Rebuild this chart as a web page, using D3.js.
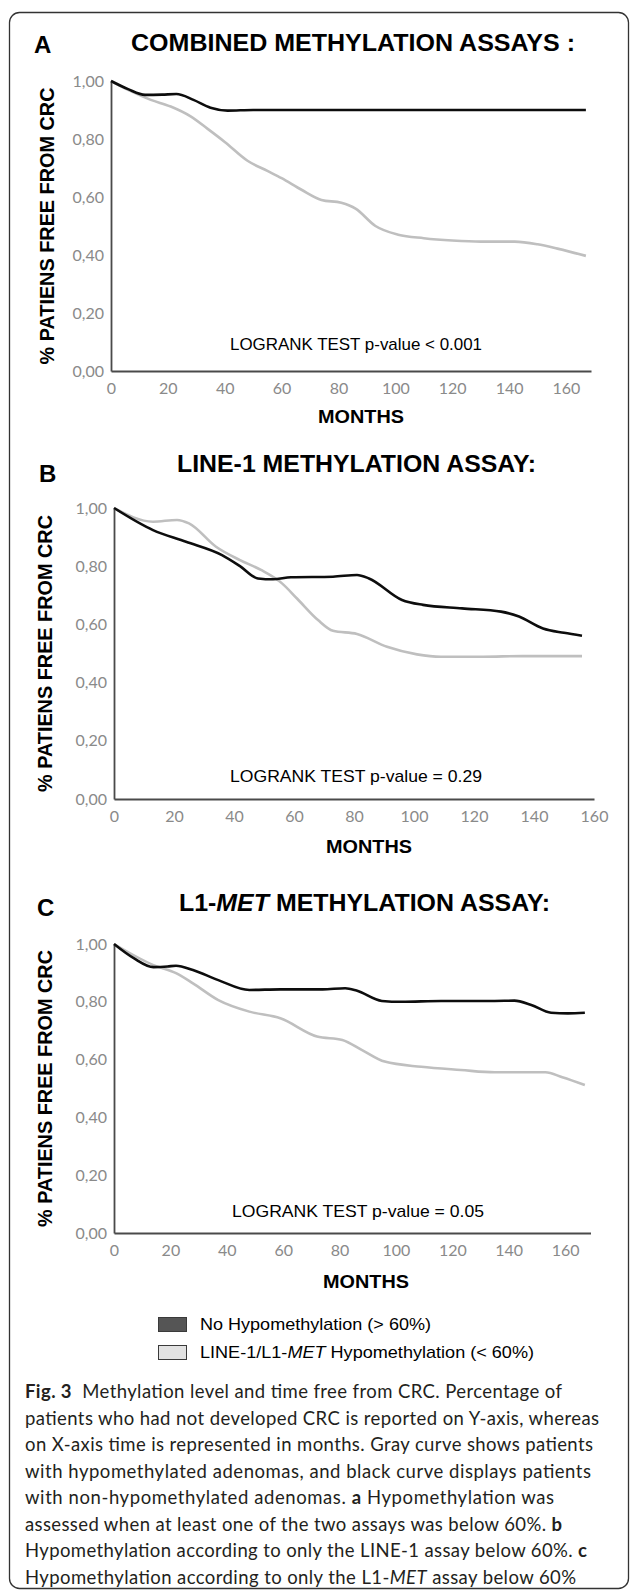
<!DOCTYPE html>
<html><head><meta charset="utf-8">
<script src="https://cdn.jsdelivr.net/npm/d3@7"></script>
<style>body{margin:0;background:#fff;} svg{display:block;}</style>
</head><body>
<svg id="c" width="630" height="1590"></svg>
<script>
// ---------- data ----------
const xTicks = [0, 20, 40, 60, 80, 100, 120, 140, 160];
const yTicks = [0, 0.2, 0.4, 0.6, 0.8, 1.0];
const seriesNames = ["No Hypomethylation (> 60%)", "LINE-1/L1-MET Hypomethylation (< 60%)"];
const pValueLabels = ["LOGRANK TEST p-value < 0.001", "LOGRANK TEST p-value = 0.29", "LOGRANK TEST p-value = 0.05"];

// Panel A (combined assays): [month, fraction free from CRC]
const aBlack = [[0,1.00],[6,0.972],[12,0.952],[18,0.953],[23,0.955],[29,0.935],[35,0.908],[41,0.898],[50,0.900],[80,0.900],[120,0.900],[167,0.900]];
const aGray  = [[0,1.00],[7,0.965],[14,0.935],[21,0.912],[28,0.878],[34,0.835],[40,0.790],[48,0.725],[55,0.690],[60,0.665],[67,0.625],[74,0.590],[81,0.580],[86,0.560],[93,0.500],[101,0.470],[110,0.458],[120,0.450],[130,0.446],[142,0.446],[150,0.437],[157,0.422],[167,0.397]];
// Panel B (LINE-1 assay)
const bBlack = [[0,1.00],[13,0.924],[24,0.884],[36,0.838],[42,0.800],[48,0.758],[53,0.755],[59,0.762],[73,0.764],[81,0.770],[85,0.758],[96,0.684],[103,0.667],[116,0.655],[129,0.644],[135,0.627],[143,0.586],[150,0.571],[156,0.561]];
const bGray  = [[0,1.00],[13,0.953],[21,0.959],[25,0.947],[34,0.867],[42,0.821],[49,0.787],[56,0.741],[61,0.689],[68,0.615],[73,0.578],[81,0.567],[91,0.523],[101,0.497],[109,0.489],[123,0.489],[136,0.491],[156,0.491]];
// Panel C (L1-MET assay)
const cBlack = [[0,1.00],[7,0.951],[14,0.920],[19,0.922],[22,0.925],[28,0.910],[37,0.875],[48,0.841],[59,0.843],[74,0.843],[82,0.847],[86,0.839],[95,0.803],[102,0.800],[116,0.803],[135,0.803],[142,0.804],[148,0.789],[155,0.762],[161,0.760],[167,0.762]];
const cGray  = [[0,1.00],[14,0.927],[22,0.899],[28,0.864],[37,0.806],[48,0.766],[59,0.743],[72,0.680],[81,0.668],[88,0.633],[96,0.593],[109,0.575],[123,0.564],[135,0.556],[145,0.556],[153,0.556],[159,0.539],[167,0.512]];

// ---------- layout ----------
const panels = [
  {letter:"A", lx:34, ly:53, title:[["COMBINED METHYLATION ASSAYS :",false]], tx:131, ty:51, tw:444,
   x0:111, x1:591, xMax:168.8, yTop:81, yBot:371, black:aBlack, gray:aGray, p:pValueLabels[0], px:356, py:350,
   ytx:54, mx:361, my:423},
  {letter:"B", lx:39, ly:482, title:[["LINE-1 METHYLATION ASSAY:",false]], tx:177, ty:472, tw:359,
   x0:114, x1:594, xMax:160, yTop:508, yBot:799, black:bBlack, gray:bGray, p:pValueLabels[1], px:356, py:782,
   ytx:52, mx:369, my:853},
  {letter:"C", lx:37, ly:916, title:[["L1-",false],["MET",true],[" METHYLATION ASSAY:",false]], tx:179, ty:911, tw:371,
   x0:114, x1:590.5, xMax:169, yTop:944, yBot:1233, black:cBlack, gray:cGray, p:pValueLabels[2], px:358, py:1217,
   ytx:52, mx:366, my:1288}
];

const svg = d3.select("#c");
svg.append("rect").attr("x",9.5).attr("y",12.5).attr("width",619).attr("height",1576)
  .attr("rx",10).attr("fill","none").attr("stroke","#333").attr("stroke-width",1.3);

const fmt = v => d3.format(".2f")(v).replace(".", ",");

panels.forEach(P => {
  const x = d3.scaleLinear().domain([0, P.xMax]).range([P.x0, P.x1]);
  const y = d3.scaleLinear().domain([0, 1]).range([P.yBot, P.yTop]);
  const g = svg.append("g");

  g.append("text").attr("x",P.lx).attr("y",P.ly).text(P.letter)
    .attr("font-family","Liberation Sans, Arial, sans-serif").attr("font-weight","bold").attr("font-size",24).attr("fill","#000");

  const t = g.append("text").attr("x",P.tx).attr("y",P.ty)
    .attr("font-family","Liberation Sans, Arial, sans-serif").attr("font-weight","bold").attr("font-size",23).attr("fill","#000")
    .attr("textLength",P.tw).attr("lengthAdjust","spacingAndGlyphs");
  P.title.forEach(([s,it]) => t.append("tspan").text(s).attr("font-style", it ? "italic" : "normal"));

  // axes
  const ax = g.append("g").attr("transform",`translate(0,${P.yBot})`)
    .call(d3.axisBottom(x).tickValues(xTicks).tickSize(0).tickPadding(12).tickFormat(d3.format("d")));
  const ay = g.append("g").attr("transform",`translate(${P.x0},0)`)
    .call(d3.axisLeft(y).tickValues(yTicks).tickSize(0).tickPadding(7).tickFormat(fmt));
  [ax, ay].forEach(a => {
    a.select(".domain").attr("stroke","#4a4a4a").attr("stroke-width",1.8);
    a.selectAll("text").attr("font-family","Lato, sans-serif").attr("font-size",16).attr("fill","#8a8a8a");
  });

  // curves
  const line = d3.line().x(d => x(d[0])).y(d => y(d[1])).curve(d3.curveMonotoneX);
  g.append("path").datum(P.gray).attr("d",line).attr("fill","none").attr("stroke","#bfbfbf").attr("stroke-width",2.6);
  g.append("path").datum(P.black).attr("d",line).attr("fill","none").attr("stroke","#0d0d0d").attr("stroke-width",2.6);

  g.append("text").attr("x",P.px).attr("y",P.py).attr("text-anchor","middle").text(P.p)
    .attr("font-family","Liberation Sans, Arial, sans-serif").attr("font-size",17).attr("fill","#000")
    .attr("textLength",252).attr("lengthAdjust","spacingAndGlyphs");

  g.append("text").attr("transform",`translate(${P.ytx},${(P.yTop+P.yBot)/2}) rotate(-90)`)
    .attr("text-anchor","middle").text("% PATIENS FREE FROM CRC")
    .attr("font-family","Liberation Sans, Arial, sans-serif").attr("font-weight","bold").attr("font-size",19.5).attr("fill","#000")
    .attr("textLength",277).attr("lengthAdjust","spacingAndGlyphs");

  g.append("text").attr("x",P.mx).attr("y",P.my).attr("text-anchor","middle").text("MONTHS")
    .attr("font-family","Liberation Sans, Arial, sans-serif").attr("font-weight","bold").attr("font-size",18).attr("fill","#000")
    .attr("textLength",86).attr("lengthAdjust","spacingAndGlyphs");
});

// legend
const legend = [
  {fill:"#555555", y:1317, parts:[[seriesNames[0],false]], w:231},
  {fill:"#e2e2e2", y:1345, parts:[["LINE-1/L1-",false],["MET",true],[" Hypomethylation (< 60%)",false]], w:334}
];
legend.forEach(L => {
  svg.append("rect").attr("x",158.5).attr("y",L.y+0.5).attr("width",28).attr("height",14)
    .attr("fill",L.fill).attr("stroke","#3a3a3a").attr("stroke-width",1);
  const t = svg.append("text").attr("x",200).attr("y",L.y+13)
    .attr("font-family","Liberation Sans, Arial, sans-serif").attr("font-size",17).attr("fill","#000")
    .attr("textLength",L.w).attr("lengthAdjust","spacingAndGlyphs");
  L.parts.forEach(([s,it]) => t.append("tspan").text(s).attr("font-style", it ? "italic" : "normal"));
});

// caption
const caption = [
  {w:537, parts:[["Fig. 3","b"],["  Methylation level and time free from CRC. Percentage of",""]]},
  {w:574, parts:[["patients who had not developed CRC is reported on Y-axis, whereas",""]]},
  {w:568, parts:[["on X-axis time is represented in months. Gray curve shows patients",""]]},
  {w:566, parts:[["with hypomethylated adenomas, and black curve displays patients",""]]},
  {w:529, parts:[["with non-hypomethylated adenomas. ",""],["a","b"],[" Hypomethylation was",""]]},
  {w:537, parts:[["assessed when at least one of the two assays was below 60%. ",""],["b","b"]]},
  {w:562, parts:[["Hypomethylation according to only the LINE-1 assay below 60%. ",""],["c","b"]]},
  {w:551, parts:[["Hypomethylation according to only the L1-",""],["MET","i"],[" assay below 60%",""]]}
];
caption.forEach((c, i) => {
  const t = svg.append("text").attr("x",25).attr("y",1398 + i*26.5)
    .attr("font-family","Lato, sans-serif").attr("font-size",18.5).attr("fill","#231f20")
    .attr("textLength",c.w).attr("lengthAdjust","spacing").attr("xml:space","preserve");
  c.parts.forEach(([s,st]) => t.append("tspan").text(s)
    .attr("font-weight", st==="b" ? "bold" : "normal").attr("font-style", st==="i" ? "italic" : "normal"));
});
</script>
</body></html>
